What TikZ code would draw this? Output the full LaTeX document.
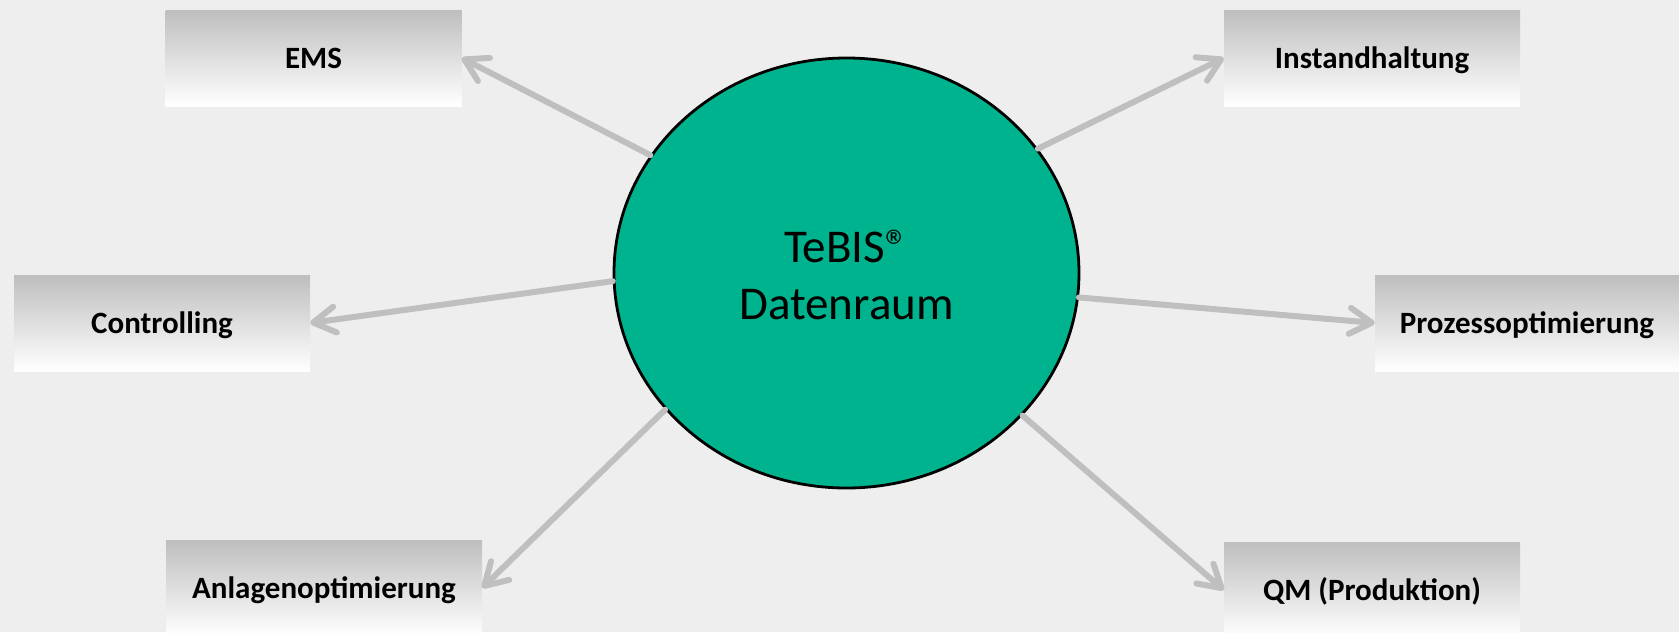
\documentclass[tikz,border=0pt]{standalone}
\usepackage{fontspec}
\setmainfont{Carlito}
\usetikzlibrary{shapes.geometric,arrows.meta}
\definecolor{bgcol}{RGB}{238,238,238}
\definecolor{arrowgray}{RGB}{191,191,191}
\definecolor{tebisgreen}{RGB}{0,179,143}
\definecolor{boxtop}{RGB}{190,190,190}
\definecolor{boxmid}{RGB}{228,228,228}
\begin{document}
\begin{tikzpicture}[x=1pt,y=-1pt,
  boxnode/.style={rectangle, inner sep=0pt, minimum width=296pt, minimum height=96pt,
    top color=boxtop, middle color=boxmid, bottom color=white,
    font=\fontsize{31}{37}\selectfont\bfseries, text height=20pt, text depth=0pt},
  hub/.style={ellipse, draw=black, line width=2.8pt, fill=tebisgreen, inner sep=0pt,
    minimum width=465pt, minimum height=430pt, align=center,
    font=\fontsize{47}{57}\selectfont},
  arr/.style={draw=arrowgray, line width=6pt, line cap=round,
    -{Straight Barb[length=22pt,width=26pt,round]}}
]
\fill[bgcol] (0,0) rectangle (1679,632);
\useasboundingbox (0,0) rectangle (1679,632);

\node[boxnode] (ems) at (313.5,58) {EMS};
\node[boxnode] (inst) at (1372,58) {Instandhaltung};
\node[boxnode] (ctrl) at (162,323) {Controlling};
\node[boxnode, minimum width=304pt] (proz) at (1527,323) {Prozessoptimierung};
\node[boxnode, minimum width=316pt] (anl) at (324,588) {Anlagenoptimierung};
\node[boxnode] (qm) at (1372,590) {QM (Produktion)};

\node[hub] (c) at (846.5,273) {};
\node[align=center, font=\fontsize{47}{57}\selectfont, inner sep=0pt] (t) at (846.5,275) {TeBIS®\\Datenraum};

\draw[arr] (c.149.2) -- (ems.east);
\draw[arr] (c.33.2) -- (inst.west);
\draw[arr] (c.182) -- (ctrl.east);
\draw[arr] (c.354.4) -- (proz.west);
\draw[arr] (c.217.6) -- (anl.east);
\draw[arr] (c.321.5) -- (qm.west);
\end{tikzpicture}
\end{document}
